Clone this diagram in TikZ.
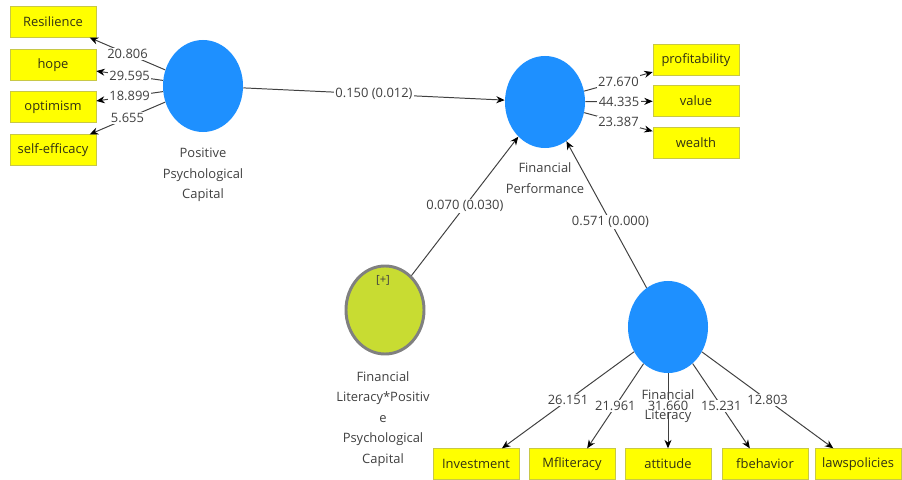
\documentclass[tikz,border=0pt]{standalone}
\usepackage{fontspec}
\setmainfont{Open Sans}
\usetikzlibrary{shapes.geometric,arrows.meta,calc}
\definecolor{plsblue}{RGB}{30,144,255}
\definecolor{boxyellow}{RGB}{255,255,0}
\definecolor{boxedge}{RGB}{200,200,70}
\definecolor{modfill}{RGB}{200,220,50}
\definecolor{modedge}{RGB}{128,128,128}
\definecolor{txtgrey}{RGB}{64,64,64}
\definecolor{boxtxt}{RGB}{50,50,20}
\tikzset{
  indbox/.style={draw=boxedge, fill=boxyellow, text=boxtxt, minimum width=2.15cm, minimum height=0.77cm, inner sep=0pt, font=\fontsize{9.2}{11}\selectfont},
  latent/.style={ellipse, fill=plsblue, minimum width=2cm, minimum height=2.3cm, inner sep=0pt},
  modlatent/.style={ellipse, fill=modfill, draw=modedge, line width=2.1pt, minimum width=1.95cm, minimum height=2.2cm, inner sep=0pt},
  caption/.style={text=txtgrey, align=center, font=\fontsize{9.2}{14.6}\selectfont},
  coef/.style={text=txtgrey, fill=white, inner sep=1pt, font=\fontsize{9.2}{11}\selectfont},
  path/.style={draw=txtgrey, line width=0.7pt, -{Stealth[length=6pt,width=5pt,black]}}
}
\begin{document}
\begin{tikzpicture}[x=0.025cm, y=-0.025cm]
\useasboundingbox (0,0) rectangle (902,480);
\node[latent] (ppc) at (203,86){};
\node[latent] (fp) at (545,102){};
\node[latent] (fl) at (668,327){};
\node[modlatent] (mod) at (385,310){};
\node[font=\fontsize{8}{10}\selectfont, text=txtgrey] (plus) at (383,280){[+]};
\node[indbox] (res) at (53,22){Resilience};
\node[indbox] (hope) at (53,65){hope};
\node[indbox] (opt) at (53,107){optimism};
\node[indbox] (self) at (53,150){self-efficacy};
\node[indbox] (prof) at (696,60){profitability};
\node[indbox] (val) at (696,101){value};
\node[indbox] (wea) at (696,143){wealth};
\node[indbox] (inv) at (476,464){Investment};
\node[indbox] (mfl) at (572,464){Mfliteracy};
\node[indbox] (att) at (668,464){attitude};
\node[indbox] (fbe) at (765,464){fbehavior};
\node[indbox] (law) at (858,464){lawspolicies};
\node[caption] (ppclbl) at (203,175){Positive\\Psychological\\Capital};
\node[caption] (fplbl) at (545,178){Financial\\Performance};
\node[caption] (modlbl) at (383,419){Financial\\Literacy*Positiv\\e\\Psychological\\Capital};
\draw[path] (ppc) -- (res) node[coef, midway]{20.806};
\draw[path] (ppc) -- (hope) node[coef, midway]{29.595};
\draw[path] (ppc) -- (opt) node[coef, midway]{18.899};
\draw[path] (ppc) -- (self) node[coef, midway]{5.655};
\draw[path] (fp) -- (prof) node[coef, midway]{27.670};
\draw[path] (fp) -- (val) node[coef, midway]{44.335};
\draw[path] (fp) -- (wea) node[coef, midway]{23.387};
\draw[path] (ppc) -- (fp) node[coef, midway]{0.150 (0.012)};
\draw[path] (mod) -- (fp) node[coef, midway]{0.070 (0.030)};
\draw[path] (fl) -- (fp) node[coef, pos=0.45]{0.571 (0.000)};
\draw[path] (fl) -- ($(inv.north)!0.6!(inv.north east)$) node[coef, midway]{26.151};
\draw[path] (fl) -- ($(mfl.north)!0.35!(mfl.north east)$) node[coef, midway]{21.961};
\draw[path] (fl) -- (att.north) node[coef, pos=0.44]{31.660};
\draw[path] (fl) -- ($(fbe.north)!0.35!(fbe.north west)$) node[coef, midway]{15.231};
\draw[path] (fl) -- ($(law.north)!0.57!(law.north west)$) node[coef, midway]{12.803};
\node[caption] (fllbl) at (668,406){Financial\\Literacy};
\end{tikzpicture}
\end{document}
